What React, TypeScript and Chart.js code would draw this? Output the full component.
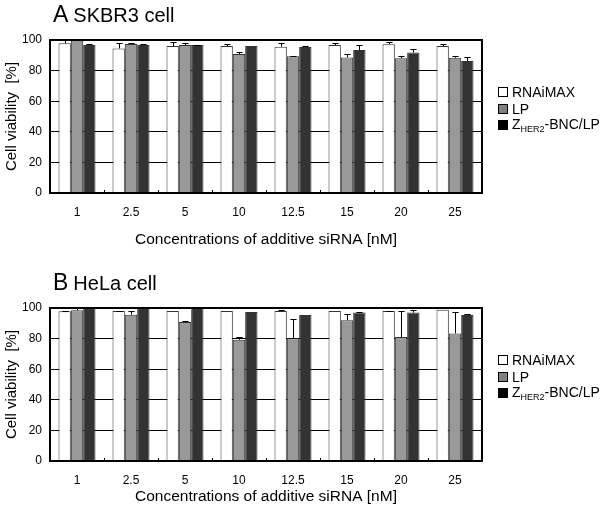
import React, { useEffect, useRef } from 'react';
import { Chart, registerables } from 'chart.js';

Chart.register(...registerables);

const categories = ['1', '2.5', '5', '10', '12.5', '15', '20', '25'];
const seriesNames = ['RNAiMAX', 'LP', 'ZHER2-BNC/LP'];
const yTickValues = [0, 20, 40, 60, 80, 100];

// Panel A: SKBR3 cell
const skbr3Rnaimax = [97.8, 94.5, 96, 96, 95.6, 96.7, 97.2, 96];
const skbr3RnaimaxErr = [3, 3.3, 2.5, 1.6, 2.2, 1.2, 1.3, 1.2];
const skbr3Lp = [99.6, 97.4, 96.7, 90.8, 89.3, 88.6, 88, 88.4];
const skbr3LpErr = [0.3, 0.5, 1.2, 1.6, 0.5, 2, 1.3, 1.3];
const skbr3Zher2 = [96.7, 96.7, 96.7, 96, 95.4, 93.5, 91.8, 86.3];
const skbr3Zher2Err = [0.5, 0.5, 0.3, 0, 0.5, 3.2, 2.4, 2.4];

// Panel B: HeLa cell
const helaRnaimax = [97.8, 98, 98, 98, 98, 98, 98, 98.8];
const helaRnaimaxErr = [0.3, 0.3, 0, 0, 0.5, 0, 0.3, 0];
const helaLp = [98.5, 95.6, 90.8, 79.2, 80.2, 92, 81, 83.4];
const helaLpErr = [1.3, 2.4, 0.5, 1.8, 12.8, 4, 16.8, 14.3];
const helaZher2 = [100, 100, 100, 97.4, 95.5, 97, 97, 95.4];
const helaZher2Err = [0, 0, 0, 0, 0, 0.3, 1.5, 0.5];

const FONT = '"Liberation Sans", Arial, Helvetica, sans-serif';
const fills = ['#ffffff', '#999999', '#333333'];
const legendFills = ['#ffffff', '#808080', '#000000'];

const decorPlugin = {
  id: 'panelDecor',
  afterDatasetsDraw(chart: any, _args: any, opts: any) {
    const ctx = chart.ctx;
    const ys = chart.scales.y;
    const xs = chart.scales.x;
    const errs: number[][] = opts.errors || [];
    const a = chart.chartArea;
    ctx.save();
    ctx.strokeStyle = '#000';
    ctx.lineWidth = 1;
    chart.data.datasets.forEach((ds: any, di: number) => {
      const meta = chart.getDatasetMeta(di);
      meta.data.forEach((bar: any, i: number) => {
        const e = errs[di] ? errs[di][i] : 0;
        if (!e) return;
        const v = ds.data[i];
        const cx = Math.round(bar.x) + 0.5;
        const yTop = ys.getPixelForValue(v);
        const yErr = Math.round(ys.getPixelForValue(v + e)) + 0.5;
        const half = bar.width / 4;
        ctx.beginPath();
        ctx.moveTo(cx, yTop);
        ctx.lineTo(cx, yErr);
        ctx.moveTo(cx - half, yErr);
        ctx.lineTo(cx + half, yErr);
        ctx.stroke();
      });
    });
    const n = chart.data.labels.length;
    for (let k = 1; k < n; k++) {
      const xb = Math.round((xs.getPixelForValue(k - 1) + xs.getPixelForValue(k)) / 2) + 0.5;
      ctx.beginPath();
      ctx.moveTo(xb, a.bottom);
      ctx.lineTo(xb, a.bottom - 3);
      ctx.stroke();
    }
    ctx.lineWidth = 2;
    ctx.strokeRect(a.left, a.top, a.right - a.left, a.bottom - a.top);
    ctx.restore();
  },
};

type PanelProps = {
  top: number;
  letter: string;
  cell: string;
  values: number[][];
  errors: number[][];
  xTitlePad: number;
};

function Panel({ top, letter, cell, values, errors, xTitlePad }: PanelProps) {
  const ref = useRef<HTMLCanvasElement | null>(null);
  useEffect(() => {
    if (!ref.current) return;
    const chart = new Chart(ref.current, {
      type: 'bar',
      data: {
        labels: categories,
        datasets: values.map((v, i) => ({
          label: seriesNames[i],
          data: v,
          backgroundColor: fills[i],
          borderColor: '#333',
          borderWidth: 1,
          categoryPercentage: 0.685,
          barPercentage: 1,
        })),
      },
      options: {
        animation: false,
        responsive: false,
        devicePixelRatio: 1,
        layout: { padding: { top: 40, right: 118, left: 0, bottom: 0 } },
        plugins: {
          legend: { display: false },
          tooltip: { enabled: false },
          panelDecor: { errors },
        } as any,
        scales: {
          x: {
            grid: { display: false, drawTicks: false },
            border: { display: false },
            ticks: { color: '#000', font: { family: FONT, size: 12 }, padding: 12, maxRotation: 0 },
            title: {
              display: true,
              text: 'Concentrations of additive siRNA [nM]',
              color: '#000',
              font: { family: FONT, size: 15.5 },
              padding: { top: 0, bottom: xTitlePad },
            },
            afterFit: (s: any) => {
              s.height = 57;
            },
          },
          y: {
            min: 0,
            max: 100,
            afterBuildTicks: (s: any) => {
              s.ticks = yTickValues.map((v) => ({ value: v }));
            },
            grid: { color: '#000', lineWidth: 1, drawTicks: false },
            border: { display: false },
            ticks: { color: '#000', font: { family: FONT, size: 12 }, padding: 8 },
            title: {
              display: true,
              text: 'Cell viability  [%]',
              color: '#000',
              font: { family: FONT, size: 15 },
              padding: { top: 3, bottom: 0 },
            },
            afterFit: (s: any) => {
              s.width = 50;
            },
          },
        },
      },
      plugins: [decorPlugin],
    });
    return () => chart.destroy();
  }, []);

  return (
    <div style={{ position: 'absolute', left: 0, top, width: 600, height: 250 }}>
      <canvas ref={ref} width={600} height={250} style={{ display: 'block', width: 600, height: 250 }} />
      <div
        style={{
          position: 'absolute',
          left: 53,
          top: 2,
          fontFamily: FONT,
          fontSize: 23,
          lineHeight: '24px',
          color: '#000',
          whiteSpace: 'nowrap',
        }}
      >
        <span>{letter}</span>
        <span style={{ fontSize: 20, marginLeft: 5 }}>{cell}</span>
      </div>
      <div style={{ position: 'absolute', left: 498, top: 84, fontFamily: FONT, fontSize: 14, color: '#000' }}>
        {seriesNames.map((name, i) => (
          <div key={name} style={{ height: 16.5, lineHeight: '16.5px', whiteSpace: 'nowrap', display: 'flex', alignItems: 'center' }}>
            <span
              style={{
                display: 'inline-block',
                width: 8,
                height: 8,
                border: '1px solid #000',
                background: legendFills[i],
                marginRight: 4,
              }}
            />
            {i === 2 ? (
              <span>
                Z<sub style={{ fontSize: 9, verticalAlign: 'baseline', position: 'relative', top: 3 }}>HER2</sub>-BNC/LP
              </span>
            ) : (
              <span>{name}</span>
            )}
          </div>
        ))}
      </div>
    </div>
  );
}

export default function App() {
  return (
    <div
      style={{
        position: 'fixed',
        left: 0,
        top: 0,
        width: 600,
        height: 506,
        overflow: 'hidden',
        background: '#fff',
      }}
    >
      <Panel
        top={0}
        letter="A"
        cell="SKBR3 cell"
        values={[skbr3Rnaimax, skbr3Lp, skbr3Zher2]}
        errors={[skbr3RnaimaxErr, skbr3LpErr, skbr3Zher2Err]}
        xTitlePad={1}
      />
      <Panel
        top={268}
        letter="B"
        cell="HeLa cell"
        values={[helaRnaimax, helaLp, helaZher2]}
        errors={[helaRnaimaxErr, helaLpErr, helaZher2Err]}
        xTitlePad={12}
      />
    </div>
  );
}
